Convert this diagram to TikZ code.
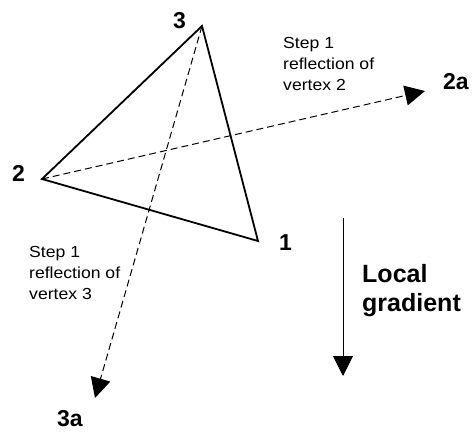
\documentclass[tikz,border=0pt]{standalone}
\usepackage{fontspec}
\setmainfont{Liberation Sans}
\newfontfamily\notefont{Liberation Sans}[FakeStretch=1.1]
\usetikzlibrary{arrows.meta}
\begin{document}
\begin{tikzpicture}[x=1pt,y=-1pt,
  vlabel/.style={font=\fontsize{23}{27}\selectfont\bfseries, inner sep=0pt, anchor=base west},
  note/.style={font=\notefont\fontsize{16}{21}\selectfont, inner sep=0pt, anchor=base west, align=left},
  biglabel/.style={font=\fontsize{25}{29}\selectfont\bfseries, inner sep=0pt, anchor=base west, align=left},
  edge/.style={line width=1.8pt, line join=miter},
  reflect/.style={line width=1pt, dash pattern=on 7pt off 4pt, -{Triangle[length=20pt,width=20pt]}},
  gradarrow/.style={line width=0.9pt, -{Triangle[length=20pt,width=20pt]}}]
\useasboundingbox (0,0) rectangle (473,433);
% vertices
\coordinate (v1) at (258,241);
\coordinate (v2) at (42,179);
\coordinate (v3) at (202,26);
\coordinate (t2a) at (425,91);
\coordinate (t3a) at (95,398);
\coordinate (g0) at (343,218);
\coordinate (g1) at (343,376);
% triangle
\draw[edge] (v1) -- (v2) -- (v3) -- cycle;
% reflections
\draw[reflect] (v2) -- (t2a);
\draw[reflect] (v3) -- (t3a);
% gradient
\draw[gradarrow] (g0) -- (g1);
% labels
\node[vlabel] (l3) at (173,29) {3};
\node[vlabel] (l2) at (12,181) {2};
\node[vlabel] (l1) at (279,250) {1};
\node[vlabel] (l2a) at (443,89) {2a};
\node[vlabel] (l3a) at (57,426) {3a};
\node[note] (n2) at (283,91) {Step 1\\reflection of\\vertex 2};
\node[note] (n3) at (29,299) {Step 1\\reflection of\\vertex 3};
\node[biglabel] (lg) at (362,311) {Local\\gradient};
\end{tikzpicture}
\end{document}
